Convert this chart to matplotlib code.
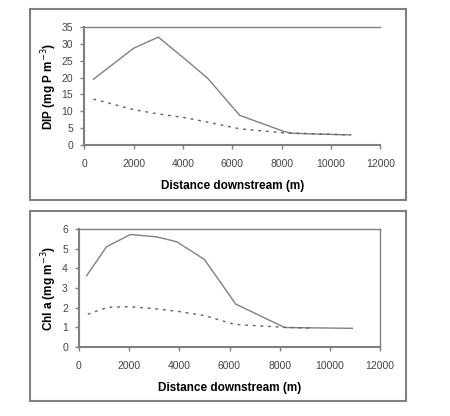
import matplotlib.pyplot as plt
from matplotlib.patches import Rectangle

plt.rcParams['font.family'] = ['Liberation Sans', 'DejaVu Sans']

# DIP panel
dip_x_a = [370, 2000, 3000, 4000, 5000, 6300, 8100, 8400, 9600, 10800]
dip_a = [19.5, 28.7, 32.0, 26.0, 19.8, 8.8, 4.0, 3.5, 3.2, 3.0]
dip_x_b = [370, 2000, 3000, 4000, 5000, 6300, 8100, 10800]
dip_b = [13.6, 10.5, 9.2, 8.2, 6.8, 4.8, 3.6, 3.0]

# Chl a panel
chl_x_a = [300, 1100, 2050, 3100, 3900, 5000, 6250, 8200, 10900]
chl_a = [3.62, 5.1, 5.72, 5.6, 5.35, 4.45, 2.18, 0.99, 0.95]
chl_x_b = [350, 1150, 2000, 3000, 4000, 5000, 6200, 8200, 9300]
chl_b = [1.67, 2.02, 2.05, 1.95, 1.8, 1.6, 1.15, 1.0, 0.95]

xticks = [0, 2000, 4000, 6000, 8000, 10000, 12000]

W, H = 450, 416
fig = plt.figure(figsize=(4.5, 4.16), dpi=100)

# outer frames
for top, bot in [(9, 200), (211, 401)]:
    fig.patches.append(Rectangle((30 / W, 1 - bot / H), 376 / W, (bot - top) / H,
                                 transform=fig.transFigure, fill=False,
                                 edgecolor='#808080', linewidth=1.5))

gray = '#808080'

def setup(ax, ylabel, ymax, ystep, right):
    ax.set_xlim(0, 12000)
    ax.set_ylim(0, ymax)
    ax.set_xticks(xticks)
    ax.set_yticks(range(0, ymax + 1, ystep))
    ax.spines['right'].set_visible(right)
    for s in ['left', 'bottom', 'top', 'right']:
        ax.spines[s].set_color(gray)
    ax.spines['left'].set_linewidth(1.5)
    ax.spines['bottom'].set_linewidth(1.5)
    ax.spines['top'].set_linewidth(1.0)
    ax.spines['right'].set_linewidth(1.0)
    ax.tick_params(direction='out', length=3, width=1, color=gray,
                   labelsize=7.5, labelcolor='#444444', pad=5)
    ax.tick_params(axis='x', pad=7)
    ax.set_xlabel('Distance downstream (m)', fontsize=8.5, fontweight='bold', labelpad=8)
    ax.set_ylabel(ylabel, fontsize=8.5, fontweight='bold', labelpad=2)

ax1 = fig.add_axes([84.3 / W, 1 - 145 / H, 296 / W, 118 / H])
ax1.plot(dip_x_a, dip_a, color=gray, linewidth=1.0)
ax1.plot(dip_x_b, dip_b, color='#606060', linewidth=1.0, linestyle=(0, (2, 3.5)))
setup(ax1, 'DIP (mg P m$^{-3}$)', 35, 5, False)

ax2 = fig.add_axes([79 / W, 1 - 347 / H, 301 / W, 118 / H])
ax2.plot(chl_x_a, chl_a, color=gray, linewidth=1.0)
ax2.plot(chl_x_b, chl_b, color='#606060', linewidth=1.0, linestyle=(0, (2, 3.5)))
setup(ax2, 'Chl a (mg m$^{-3}$)', 6, 1, True)

fig.savefig('out.png', dpi=100)
